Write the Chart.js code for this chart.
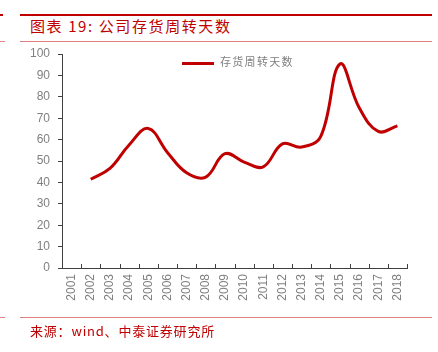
<!DOCTYPE html>
<html>
<head>
<meta charset="utf-8">
<script src="https://cdn.jsdelivr.net/npm/chart.js@4.4.1/dist/chart.umd.min.js"></script>
<style>
  html, body { margin: 0; padding: 0; background: #fff; }
  body { width: 438px; height: 352px; position: relative; overflow: hidden; font-family: "Noto Sans CJK SC", sans-serif; }
  #chartBox { position: absolute; left: 0; top: 0; width: 438px; height: 352px; }
  .rule { position: absolute; }
  #title { position: absolute; left: 30px; top: 17px; font-size: 15px; color: #C00000; line-height: 18px; white-space: nowrap; letter-spacing: 1.6px; }
  #source { position: absolute; left: 30px; top: 323px; font-size: 13px; color: #C00000; line-height: 16px; white-space: nowrap; letter-spacing: 0.8px; }
  #legend { position: absolute; left: 182px; top: 53px; font-size: 11px; color: #808080; white-space: nowrap; letter-spacing: 1.3px; }
  #legend span.swatch { display: inline-block; width: 32px; height: 3px; background: #C00000; vertical-align: middle; margin-right: 6px; }
</style>
</head>
<body>
<div class="rule" style="left:0;top:14px;width:3px;height:2px;background:#C00000"></div>
<div class="rule" style="left:20px;top:14px;width:412px;height:2px;background:#C00000"></div>
<div id="title">图表 19: 公司存货周转天数</div>
<div class="rule" style="left:0;top:41px;width:5px;height:1px;background:#E08080"></div>
<div class="rule" style="left:20px;top:41px;width:412px;height:1px;background:#E08080"></div>
<div id="chartBox"><canvas id="chart"></canvas></div>
<div id="legend"><span class="swatch"></span>存货周转天数</div>
<div class="rule" style="left:0;top:317px;width:5px;height:1px;background:#E08080"></div>
<div class="rule" style="left:20px;top:317px;width:412px;height:1px;background:#E08080"></div>
<div id="source">来源：wind、中泰证券研究所</div>
<script>
const years = ['2001', '2002', '2003', '2004', '2005', '2006', '2007', '2008', '2009',
  '2010', '2011', '2012', '2013', '2014', '2015', '2016', '2017', '2018'];
const inventoryDays = [null, 41.5, 46.5, 57.5, 65.2, 54, 44.5, 42.5, 53.4,
  49.5, 47.3, 58, 56.5, 61.5, 95.3, 75, 63.8, 66.4];
const yTicks = [0, 10, 20, 30, 40, 50, 60, 70, 80, 90, 100];

const axisColor = '#404040';

// inward tick marks on the category axis, at the category boundaries
const xTickMarks = {
  id: 'xTickMarks',
  afterDraw(chart) {
    const x = chart.scales.x;
    const ctx = chart.ctx;
    const half = (x.getPixelForValue(1) - x.getPixelForValue(0)) / 2;
    ctx.save();
    ctx.strokeStyle = axisColor;
    ctx.lineWidth = 1;
    ctx.beginPath();
    for (let i = 0; i <= years.length; i++) {
      const px = Math.round(x.getPixelForValue(0) - half + i * half * 2) + 0.5;
      ctx.moveTo(px, x.top);
      ctx.lineTo(px, x.top - 4);
    }
    ctx.stroke();
    ctx.restore();
  }
};

new Chart(document.getElementById('chart'), {
  type: 'line',
  data: {
    labels: years,
    datasets: [{
      label: '存货周转天数',
      data: inventoryDays,
      borderColor: '#C00000',
      borderWidth: 3,
      pointRadius: 0,
      tension: 0.4,
      fill: false
    }]
  },
  options: {
    responsive: true,
    maintainAspectRatio: false,
    animation: false,
    layout: { padding: { top: 54, left: 0, right: 31, bottom: 0 } },
    plugins: {
      legend: { display: false },
      tooltip: { enabled: false }
    },
    scales: {
      x: {
        offset: true,
        grid: { display: false, drawTicks: false },
        border: { display: true, color: axisColor, width: 1 },
        ticks: {
          color: '#808080',
          font: { family: 'Liberation Sans, Arial, sans-serif', size: 12 },
          minRotation: 90,
          maxRotation: 90,
          padding: 6,
          autoSkip: false
        },
        afterFit(scale) { scale.height = 84; }
      },
      y: {
        min: 0,
        max: 100,
        afterBuildTicks(scale) { scale.ticks = yTicks.map(v => ({ value: v })); },
        grid: { display: true, drawOnChartArea: false, drawTicks: true, tickLength: 4, color: axisColor },
        border: { display: true, color: axisColor, width: 1 },
        ticks: {
          color: '#808080',
          font: { family: 'Liberation Sans, Arial, sans-serif', size: 12 },
          padding: 8
        },
        afterFit(scale) { scale.width = 62; }
      }
    }
  },
  plugins: [xTickMarks]
});
</script>
</body>
</html>
